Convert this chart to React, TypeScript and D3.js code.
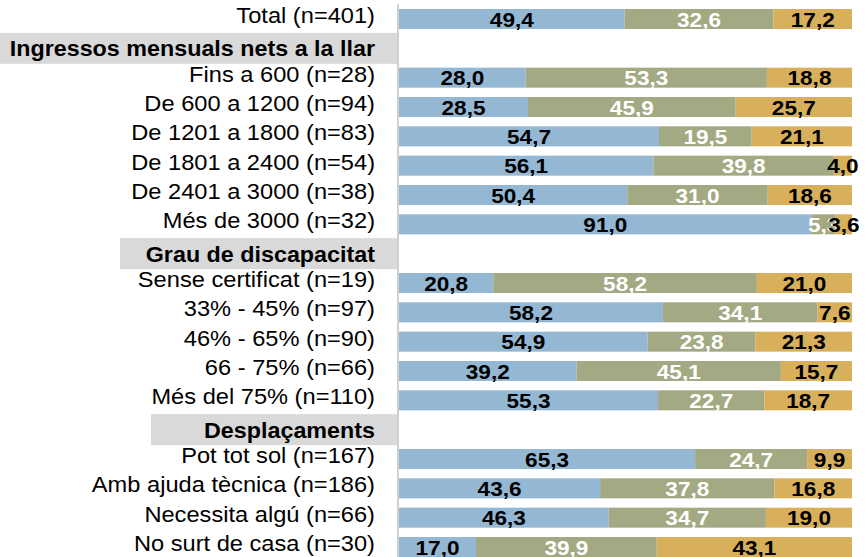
import * as d3 from 'd3'
import React, { useEffect, useRef } from 'react'

const width = 867
const height = 557

const labels = [
  'Total (n=401)',
  'Ingressos mensuals nets a la llar',
  'Fins a 600 (n=28)',
  'De 600 a 1200 (n=94)',
  'De 1201 a 1800 (n=83)',
  'De 1801 a 2400 (n=54)',
  'De 2401 a 3000 (n=38)',
  'Més de 3000 (n=32)',
  'Grau de discapacitat',
  'Sense certificat (n=19)',
  '33% - 45% (n=97)',
  '46% - 65% (n=90)',
  '66 - 75% (n=66)',
  'Més del 75% (n=110)',
  'Desplaçaments',
  'Pot tot sol (n=167)',
  'Amb ajuda tècnica (n=186)',
  'Necessita algú (n=66)',
  'No surt de casa (n=30)',
]

// header rows have no values (null)
const seriesA = [49.4, null, 28.0, 28.5, 54.7, 56.1, 50.4, 91.0, null, 20.8, 58.2, 54.9, 39.2, 55.3, null, 65.3, 43.6, 46.3, 17.0]
const seriesB = [32.6, null, 53.3, 45.9, 19.5, 39.8, 31.0, 5.3, null, 58.2, 34.1, 23.8, 45.1, 22.7, null, 24.7, 37.8, 34.7, 39.9]
const seriesC = [17.2, null, 18.8, 25.7, 21.1, 4.0, 18.6, 3.6, null, 21.0, 7.6, 21.3, 15.7, 18.7, null, 9.9, 16.8, 19.0, 43.1]

const colors = ['#94b7d3', '#a3a982', '#d8af5b']
const textColors = ['#000', '#fff', '#000']

const font = "'Liberation Sans', Arial, sans-serif"

// left edge of the grey box behind each section title
const headerBoxLeft: Record<string, number> = {
  'Ingressos mensuals nets a la llar': 0,
  'Grau de discapacitat': 120,
  'Desplaçaments': 151,
}

const App: React.FC = () => {
  const ref = useRef<SVGSVGElement>(null)

  useEffect(() => {
    const svg = d3.select(ref.current)
    svg.selectAll('*').remove()

    const y = d3.scalePoint<number>().domain(d3.range(labels.length)).range([19, 547])
    const x = d3.scaleLinear().domain([0, 100]).range([399, 852])
    const fmt = d3.formatLocale({ decimal: ',', thousands: '.', grouping: [3], currency: ['', '€'] }).format('.1f')

    const labelX = 375
    const axisX = 398

    // grey header boxes
    labels.forEach((lab, i) => {
      if (seriesA[i] !== null) return
      const cy = y(i) || 0
      svg
        .append('rect')
        .attr('x', headerBoxLeft[lab])
        .attr('y', cy - 15.5)
        .attr('width', axisX - headerBoxLeft[lab])
        .attr('height', 31)
        .attr('fill', '#d9d9d9')
      svg
        .append('text')
        .attr('transform', `translate(${labelX},${cy + 8}) scale(1.06,1)`)
        .attr('text-anchor', 'end')
        .attr('font-family', font)
        .attr('font-weight', 'bold')
        .attr('font-size', 22)
        .attr('fill', '#000')
        .text(lab)
    })

    // axis line
    svg
      .append('line')
      .attr('x1', axisX)
      .attr('x2', axisX)
      .attr('y1', 4)
      .attr('y2', height)
      .attr('stroke', '#d0d0d0')
      .attr('stroke-width', 2)

    // category labels
    labels.forEach((lab, i) => {
      if (seriesA[i] === null) return
      svg
        .append('text')
        .attr('transform', `translate(${labelX},${(y(i) || 0) + 4}) scale(1.075,1)`)
        .attr('text-anchor', 'end')
        .attr('font-family', font)
        .attr('font-size', 22)
        .attr('fill', '#000')
        .text(lab)
    })

    // stacked 100% bars
    const rows = labels
      .map((lab, i) => ({ i, vals: [seriesA[i], seriesB[i], seriesC[i]] }))
      .filter((r) => r.vals[0] !== null)

    rows.forEach((r) => {
      const vals = r.vals as number[]
      const total = d3.sum(vals)
      const cy = y(r.i) || 0
      let acc = 0
      vals.forEach((v, k) => {
        const x0 = x((acc / total) * 100)
        acc += v
        const x1 = x((acc / total) * 100)
        svg
          .append('rect')
          .attr('x', x0)
          .attr('y', cy - 10)
          .attr('width', x1 - x0)
          .attr('height', 20)
          .attr('fill', colors[k])
      })
      acc = 0
      vals.forEach((v, k) => {
        const x0 = x((acc / total) * 100)
        acc += v
        const x1 = x((acc / total) * 100)
        svg
          .append('text')
          .attr('transform', `translate(${(x0 + x1) / 2},${cy + 7.5}) scale(1.13,1)`)
          .attr('text-anchor', 'middle')
          .attr('font-family', font)
          .attr('font-weight', 'bold')
          .attr('font-size', 20)
          .attr('fill', textColors[k])
          .text(fmt(v))
      })
    })
  }, [])

  return (
    <svg
      ref={ref}
      width={width}
      height={height}
      style={{ position: 'absolute', left: 0, top: 0, background: '#fff' }}
    />
  )
}

export default App
